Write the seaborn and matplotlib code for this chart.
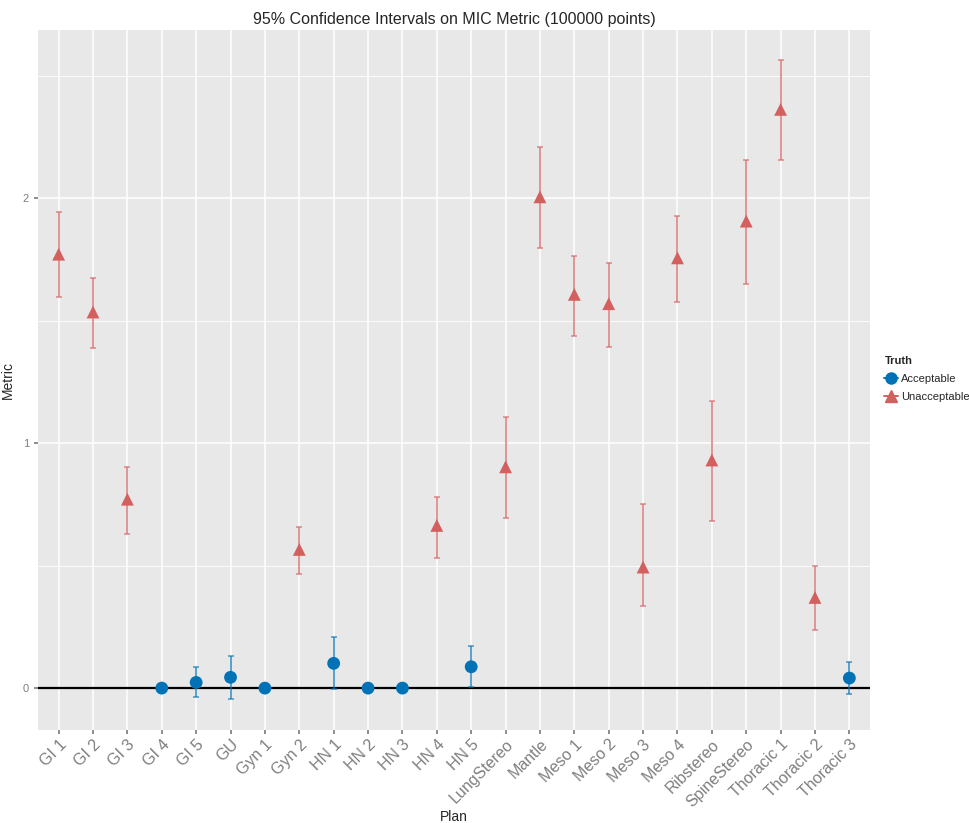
import matplotlib
matplotlib.use("Agg")
import matplotlib.pyplot as plt
from matplotlib.lines import Line2D
from matplotlib.ticker import MultipleLocator
import seaborn as sns
import pandas as pd

plans = ["GI 1", "GI 2", "GI 3", "GI 4", "GI 5", "GU", "Gyn 1", "Gyn 2", "HN 1", "HN 2",
         "HN 3", "HN 4", "HN 5", "LungStereo", "Mantle", "Meso 1", "Meso 2", "Meso 3",
         "Meso 4", "Ribstereo", "SpineStereo", "Thoracic 1", "Thoracic 2", "Thoracic 3"]
truth = ["Unacceptable", "Unacceptable", "Unacceptable", "Acceptable", "Acceptable",
         "Acceptable", "Acceptable", "Unacceptable", "Acceptable", "Acceptable",
         "Acceptable", "Unacceptable", "Acceptable", "Unacceptable", "Unacceptable",
         "Unacceptable", "Unacceptable", "Unacceptable", "Unacceptable", "Unacceptable",
         "Unacceptable", "Unacceptable", "Unacceptable", "Acceptable"]
metric = [1.771, 1.535, 0.771, 0.0, 0.023, 0.044, 0.0, 0.566, 0.101, 0.0,
          0.0, 0.664, 0.087, 0.903, 2.005, 1.607, 1.569, 0.494,
          1.756, 0.931, 1.906, 2.362, 0.370, 0.041]
lower = [1.596, 1.388, 0.630, 0.0, -0.037, -0.046, 0.0, 0.464, -0.005, 0.0,
         0.0, 0.531, 0.005, 0.694, 1.797, 1.437, 1.391, 0.335,
         1.574, 0.680, 1.648, 2.154, 0.238, -0.024]
upper = [1.943, 1.673, 0.903, 0.0, 0.085, 0.132, 0.0, 0.658, 0.207, 0.0,
         0.0, 0.782, 0.171, 1.107, 2.207, 1.763, 1.736, 0.750,
         1.927, 1.170, 2.154, 2.563, 0.497, 0.105]

df = pd.DataFrame({"Plan": plans, "Truth": truth, "Metric": metric,
                   "lower": lower, "upper": upper})

palette = {"Acceptable": "#0072B5", "Unacceptable": "#D35F5F"}
markers = {"Acceptable": "o", "Unacceptable": "^"}

sns.set_theme(style="darkgrid", rc={
    "axes.facecolor": "#E8E8E8",
    "grid.color": "white",
    "axes.edgecolor": "#E8E8E8",
})
plt.rcParams["font.family"] = ["Liberation Sans", "DejaVu Sans"]

fig = plt.figure(figsize=(9.7, 8.23), dpi=100)
ax = fig.add_axes([38/970, 1-730/823, (870-38)/970, (730-30)/823])

# x positions come from the categorical axis
ax.plot(df["Plan"], df["Metric"], alpha=0)

for t in ["Acceptable", "Unacceptable"]:
    sub = df[df["Truth"] == t]
    ax.errorbar(sub["Plan"], sub["Metric"],
                yerr=[sub["Metric"] - sub["lower"], sub["upper"] - sub["Metric"]],
                fmt="none", ecolor=palette[t], alpha=0.65, elinewidth=1.4,
                capsize=2.5, capthick=1.2, zorder=3)

ax.axhline(0, color="black", lw=1.6, zorder=2)

sns.scatterplot(data=df, x="Plan", y="Metric", hue="Truth", style="Truth",
                palette=palette, markers=markers, s=85, edgecolor="none",
                legend=False, ax=ax, zorder=4)

ax.set_xlim(-0.6, len(plans) - 0.4)
ax.set_ylim(-0.171, 2.686)
ax.yaxis.set_major_locator(MultipleLocator(1))
ax.yaxis.set_minor_locator(MultipleLocator(0.5))
ax.grid(which="major", color="white", lw=1.1)
ax.grid(which="minor", axis="y", color="white", lw=0.6)
ax.grid(which="major", axis="x", color="white", lw=1.1)

ax.tick_params(axis="both", which="major", length=3, color="#7F7F7F",
               labelcolor="#7F7F7F", bottom=True, left=True)
ax.tick_params(axis="y", which="minor", length=0)
ax.tick_params(axis="x", labelsize=11.5, pad=2)
ax.tick_params(axis="y", labelsize=8)
plt.setp(ax.get_xticklabels(), rotation=45, ha="right", rotation_mode="anchor")
for s in ax.spines.values():
    s.set_visible(False)

ax.set_xlabel("Plan", fontsize=10, labelpad=0)
ax.set_ylabel("Metric", fontsize=10, labelpad=6)
ax.set_title("95% Confidence Intervals on MIC Metric (100000 points)", fontsize=11.5, pad=4)

handles = [Line2D([], [], color=palette[t], marker=markers[t], markersize=8,
                  lw=1.4, label=t) for t in ["Acceptable", "Unacceptable"]]
leg = fig.legend(handles=handles, title="Truth", loc="upper left",
                 bbox_to_anchor=(880/970, 1-352/823), frameon=False,
                 fontsize=8, title_fontsize=8, handlelength=1.2,
                 handletextpad=0.3, labelspacing=0.7, borderaxespad=0)
leg.get_title().set_fontweight("bold")
leg._legend_box.align = "left"

fig.savefig("out.png", dpi=100)
